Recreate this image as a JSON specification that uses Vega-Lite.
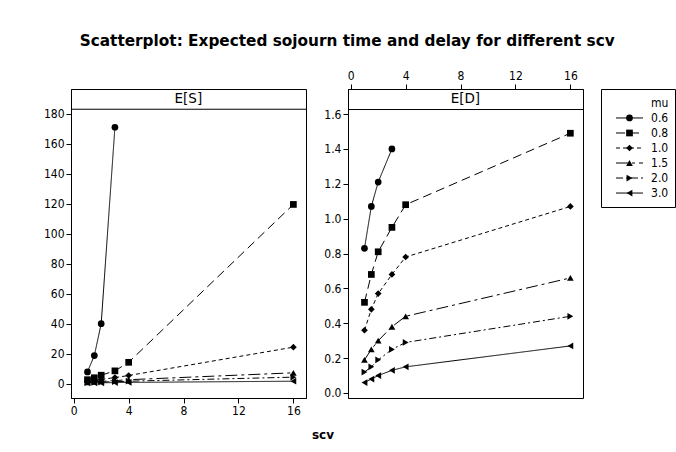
{
  "$schema": "https://vega.github.io/schema/vega-lite/v6.json",
  "background": "white",
  "padding": {"left": 42, "top": 34, "right": 5, "bottom": 5},
  "title": {"text": "Scatterplot: Expected sojourn time and delay for different scv", "font": "DejaVu Sans", "fontSize": 15.3, "fontWeight": "bold", "color": "black", "anchor": "middle", "frame": "bounds", "offset": 12, "dx": -12},
  "datasets": {
    "main": [
      {"mu": "0.6", "scv": 1, "ES": 7.8, "ED": 0.83},
      {"mu": "0.6", "scv": 1.5, "ES": 18.7, "ED": 1.07},
      {"mu": "0.6", "scv": 2, "ES": 40.0, "ED": 1.21},
      {"mu": "0.6", "scv": 3, "ES": 171.0, "ED": 1.40},
      {"mu": "0.8", "scv": 1, "ES": 2.6, "ED": 0.52},
      {"mu": "0.8", "scv": 1.5, "ES": 3.9, "ED": 0.68},
      {"mu": "0.8", "scv": 2, "ES": 5.6, "ED": 0.81},
      {"mu": "0.8", "scv": 3, "ES": 8.5, "ED": 0.95},
      {"mu": "0.8", "scv": 4, "ES": 14.2, "ED": 1.08},
      {"mu": "0.8", "scv": 16, "ES": 119.5, "ED": 1.49},
      {"mu": "1.0", "scv": 1, "ES": 1.4, "ED": 0.36},
      {"mu": "1.0", "scv": 1.5, "ES": 2.1, "ED": 0.48},
      {"mu": "1.0", "scv": 2, "ES": 2.8, "ED": 0.57},
      {"mu": "1.0", "scv": 3, "ES": 4.0, "ED": 0.68},
      {"mu": "1.0", "scv": 4, "ES": 5.4, "ED": 0.78},
      {"mu": "1.0", "scv": 16, "ES": 24.3, "ED": 1.07},
      {"mu": "1.5", "scv": 1, "ES": 0.9, "ED": 0.19},
      {"mu": "1.5", "scv": 1.5, "ES": 1.2, "ED": 0.25},
      {"mu": "1.5", "scv": 2, "ES": 1.5, "ED": 0.30},
      {"mu": "1.5", "scv": 3, "ES": 2.0, "ED": 0.38},
      {"mu": "1.5", "scv": 4, "ES": 2.6, "ED": 0.44},
      {"mu": "1.5", "scv": 16, "ES": 7.2, "ED": 0.66},
      {"mu": "2.0", "scv": 1, "ES": 0.6, "ED": 0.12},
      {"mu": "2.0", "scv": 1.5, "ES": 0.8, "ED": 0.15},
      {"mu": "2.0", "scv": 2, "ES": 1.0, "ED": 0.19},
      {"mu": "2.0", "scv": 3, "ES": 1.3, "ED": 0.25},
      {"mu": "2.0", "scv": 4, "ES": 1.6, "ED": 0.29},
      {"mu": "2.0", "scv": 16, "ES": 4.3, "ED": 0.44},
      {"mu": "3.0", "scv": 1, "ES": 0.4, "ED": 0.06},
      {"mu": "3.0", "scv": 1.5, "ES": 0.5, "ED": 0.08},
      {"mu": "3.0", "scv": 2, "ES": 0.55, "ED": 0.10},
      {"mu": "3.0", "scv": 3, "ES": 0.7, "ED": 0.13},
      {"mu": "3.0", "scv": 4, "ES": 0.8, "ED": 0.15},
      {"mu": "3.0", "scv": 16, "ES": 1.6, "ED": 0.27}
    ],
    "legend": [
      {"key": "mu", "label": "mu"},
      {"key": "0.6", "label": "0.6"},
      {"key": "0.8", "label": "0.8"},
      {"key": "1.0", "label": "1.0"},
      {"key": "1.5", "label": "1.5"},
      {"key": "2.0", "label": "2.0"},
      {"key": "3.0", "label": "3.0"}
    ]
  },
  "config": {
    "view": {"stroke": "black", "strokeWidth": 1},
    "axis": {"domainColor": "black", "tickColor": "black", "labelColor": "black", "labelFont": "DejaVu Sans Condensed", "labelFontSize": 12, "tickSize": 5, "labelPadding": 2, "grid": false, "titleColor": "black", "labelOverlap": false},
    "text": {"font": "DejaVu Sans Condensed", "fontSize": 12, "color": "black"}
  },
  "vconcat": [
    {
      "title": {"text": "scv", "orient": "bottom", "anchor": "start", "frame": "bounds", "dx": 269, "font": "DejaVu Sans", "fontSize": 12, "fontWeight": "bold", "color": "black", "offset": 13},
      "spacing": 16,
      "hconcat": [
        {
          "width": 235,
          "height": 309,
          "resolve": {"axis": {"x": "independent"}},
          "layer": [
            {
              "data": {"name": "main"},
              "mark": {"type": "line", "color": "black", "strokeWidth": 1},
              "encoding": {
                "x": {"field": "scv", "type": "quantitative", "scale": {"domain": [-0.2, 16.92], "nice": false, "zero": false}, "axis": {"orient": "bottom", "values": [0, 4, 8, 12, 16], "title": null}},
                "y": {"field": "ES", "type": "quantitative", "scale": {"domain": [-9.6, 196.5], "nice": false, "zero": false}, "axis": {"values": [0, 20, 40, 60, 80, 100, 120, 140, 160, 180], "title": null}},
                "strokeDash": {"field": "mu", "type": "nominal", "scale": {"domain": ["0.6", "0.8", "1.0", "1.5", "2.0", "3.0"], "range": [[1, 0], [9, 5], [4, 3], [12, 4, 3, 4], [7, 3, 2, 3], [1, 0]]}, "legend": null}
              }
            },
            {
              "data": {"name": "main"},
              "mark": {"type": "point", "filled": true, "color": "black", "opacity": 1},
              "encoding": {
                "x": {"field": "scv", "type": "quantitative", "axis": null},
                "y": {"field": "ES", "type": "quantitative", "axis": {"values": [0, 20, 40, 60, 80, 100, 120, 140, 160, 180], "title": null}},
                "shape": {"field": "mu", "type": "nominal", "scale": {"domain": ["0.6", "0.8", "1.0", "1.5", "2.0", "3.0"], "range": ["circle", "square", "diamond", "triangle-up", "triangle-right", "triangle-left"]}, "legend": null},
                "size": {"field": "mu", "type": "nominal", "scale": {"domain": ["0.6", "0.8", "1.0", "1.5", "2.0", "3.0"], "range": [45, 45, 60, 70, 70, 70]}, "legend": null}
              }
            },
            {
              "data": {"values": [{"panel": "E[S]"}]},
              "mark": {"type": "rule", "color": "black", "strokeWidth": 1},
              "encoding": {"y": {"datum": 183.0, "type": "quantitative", "axis": {"values": [0, 20, 40, 60, 80, 100, 120, 140, 160, 180], "title": null}}}
            },
            {
              "data": {"values": [{"panel": "E[S]"}]},
              "mark": {"type": "text", "font": "DejaVu Sans", "fontSize": 13.5},
              "encoding": {
                "x": {"datum": 8.35, "type": "quantitative", "axis": {"orient": "top", "values": [0, 4, 8, 12, 16], "title": null, "labelOpacity": 0, "tickOpacity": 0, "domain": false}},
                "y": {"datum": 189.8, "type": "quantitative", "axis": {"values": [0, 20, 40, 60, 80, 100, 120, 140, 160, 180], "title": null}},
                "text": {"field": "panel"}
              }
            }
          ]
        },
        {
          "width": 235,
          "height": 309,
          "layer": [
            {
              "data": {"name": "main"},
              "mark": {"type": "line", "color": "black", "strokeWidth": 1},
              "encoding": {
                "x": {"field": "scv", "type": "quantitative", "scale": {"domain": [-0.2, 16.92], "nice": false, "zero": false}, "axis": {"orient": "top", "values": [0, 4, 8, 12, 16], "title": null}},
                "y": {"field": "ED", "type": "quantitative", "scale": {"domain": [-0.0287, 1.7437], "nice": false, "zero": false}, "axis": {"values": [0, 0.2, 0.4, 0.6, 0.8, 1.0, 1.2, 1.4, 1.6], "format": ".1f", "title": null}},
                "strokeDash": {"field": "mu", "type": "nominal", "scale": {"domain": ["0.6", "0.8", "1.0", "1.5", "2.0", "3.0"], "range": [[1, 0], [9, 5], [4, 3], [12, 4, 3, 4], [7, 3, 2, 3], [1, 0]]}, "legend": null}
              }
            },
            {
              "data": {"name": "main"},
              "mark": {"type": "point", "filled": true, "color": "black", "opacity": 1},
              "encoding": {
                "x": {"field": "scv", "type": "quantitative", "axis": {"orient": "top", "values": [0, 4, 8, 12, 16], "title": null}},
                "y": {"field": "ED", "type": "quantitative", "axis": {"values": [0, 0.2, 0.4, 0.6, 0.8, 1.0, 1.2, 1.4, 1.6], "format": ".1f", "title": null}},
                "shape": {"field": "mu", "type": "nominal", "scale": {"domain": ["0.6", "0.8", "1.0", "1.5", "2.0", "3.0"], "range": ["circle", "square", "diamond", "triangle-up", "triangle-right", "triangle-left"]}, "legend": null},
                "size": {"field": "mu", "type": "nominal", "scale": {"domain": ["0.6", "0.8", "1.0", "1.5", "2.0", "3.0"], "range": [45, 45, 60, 70, 70, 70]}, "legend": null}
              }
            },
            {
              "data": {"values": [{"panel": "E[D]"}]},
              "mark": {"type": "rule", "color": "black", "strokeWidth": 1},
              "encoding": {"y": {"datum": 1.626, "type": "quantitative", "axis": {"values": [0, 0.2, 0.4, 0.6, 0.8, 1.0, 1.2, 1.4, 1.6], "format": ".1f", "title": null}}}
            },
            {
              "data": {"values": [{"panel": "E[D]"}]},
              "mark": {"type": "text", "font": "DejaVu Sans", "fontSize": 13.5},
              "encoding": {
                "x": {"datum": 8.35, "type": "quantitative", "axis": {"orient": "top", "values": [0, 4, 8, 12, 16], "title": null}},
                "y": {"datum": 1.685, "type": "quantitative", "axis": {"values": [0, 0.2, 0.4, 0.6, 0.8, 1.0, 1.2, 1.4, 1.6], "format": ".1f", "title": null}},
                "text": {"field": "panel"}
              }
            }
          ]
        },
        {
          "width": 74,
          "height": 118,
          "data": {"name": "legend"},
          "layer": [
            {
              "transform": [{"filter": "datum.key !== 'mu'"}],
              "mark": {"type": "rule", "color": "black", "strokeWidth": 1},
              "encoding": {
                "x": {"datum": 0.203, "type": "quantitative", "scale": {"domain": [0, 1], "nice": false, "zero": false}, "axis": {"orient": "top", "values": [0, 0.5, 1], "title": null, "labelOpacity": 0, "tickOpacity": 0, "domain": false, "offset": 7}},
                "x2": {"datum": 0.568},
                "y": {"field": "key", "type": "ordinal", "scale": {"type": "point", "domain": ["mu", "0.6", "0.8", "1.0", "1.5", "2.0", "3.0"], "padding": 0.93}, "axis": null},
                "strokeDash": {"field": "key", "type": "nominal", "scale": {"domain": ["0.6", "0.8", "1.0", "1.5", "2.0", "3.0"], "range": [[1, 0], [9, 5], [4, 3], [12, 4, 3, 4], [7, 3, 2, 3], [1, 0]]}, "legend": null}
              }
            },
            {
              "transform": [{"filter": "datum.key !== 'mu'"}],
              "mark": {"type": "point", "filled": true, "color": "black", "opacity": 1},
              "encoding": {
                "x": {"datum": 0.385, "type": "quantitative", "axis": {"orient": "top", "values": [0, 0.5, 1], "title": null, "labelOpacity": 0, "tickOpacity": 0, "domain": false, "offset": 7}},
                "y": {"field": "key", "type": "ordinal", "axis": null},
                "shape": {"field": "key", "type": "nominal", "scale": {"domain": ["0.6", "0.8", "1.0", "1.5", "2.0", "3.0"], "range": ["circle", "square", "diamond", "triangle-up", "triangle-right", "triangle-left"]}, "legend": null},
                "size": {"field": "key", "type": "nominal", "scale": {"domain": ["0.6", "0.8", "1.0", "1.5", "2.0", "3.0"], "range": [45, 45, 60, 70, 70, 70]}, "legend": null}
              }
            },
            {
              "mark": {"type": "text", "align": "left"},
              "encoding": {
                "x": {"datum": 0.676, "type": "quantitative", "axis": {"orient": "top", "values": [0, 0.5, 1], "title": null, "labelOpacity": 0, "tickOpacity": 0, "domain": false, "offset": 7}},
                "y": {"field": "key", "type": "ordinal", "axis": null},
                "text": {"field": "label"}
              }
            }
          ]
        }
      ]
    }
  ]
}
